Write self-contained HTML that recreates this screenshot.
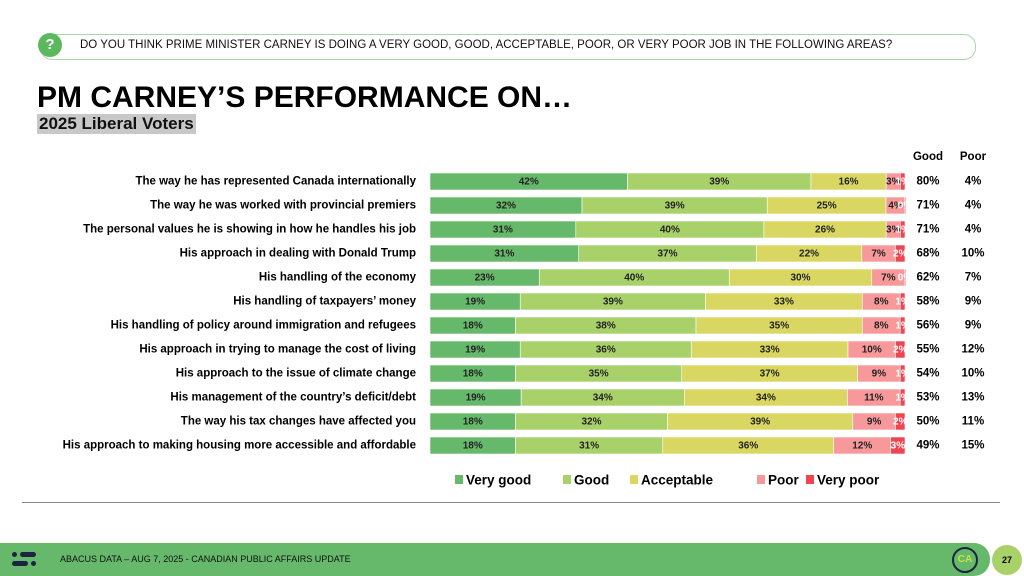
<!DOCTYPE html>
<html><head><meta charset="utf-8"><style>
body{margin:0;width:1024px;height:576px;overflow:hidden;background:#fff;font-family:"Liberation Sans",sans-serif;position:relative}
.abs{position:absolute}
</style></head><body>
<div class="abs" style="left:40px;top:34px;width:934px;height:24px;border:1px solid #a8d8a8;border-radius:12px"></div>
<div class="abs" style="left:38px;top:33px;width:24px;height:24px;border-radius:50%;background:#5cb85c;color:#fff;font-weight:bold;font-size:15px;text-align:center;line-height:24px">?</div>
<div class="abs" style="left:80px;top:39px;font-size:11.5px;color:#111">DO YOU THINK PRIME MINISTER CARNEY IS DOING A VERY GOOD, GOOD, ACCEPTABLE, POOR, OR VERY POOR JOB IN THE FOLLOWING AREAS?</div>
<div class="abs" style="left:37px;top:81px;font-size:30px;font-weight:bold;color:#000">PM CARNEY’S PERFORMANCE ON…</div>
<div class="abs" style="left:37px;top:114px;font-size:17px;font-weight:bold;background:#c8c8c8;padding:0 2px;color:#111">2025 Liberal Voters</div>
<svg class="abs" style="left:0;top:0" width="1024" height="576" id="chart"></svg>
<div class="abs" style="left:22px;top:502px;width:978px;height:1px;background:#888"></div>
<div class="abs" style="left:0;top:543px;width:990px;height:33px;background:#66b96a;border-radius:0 16px 16px 0"></div>
<div class="abs" style="left:12px;top:552px;width:36px;height:16px">
<div class="abs" style="left:0;top:0;width:5px;height:5px;border-radius:50%;background:#1d2440"></div>
<div class="abs" style="left:8px;top:0;width:16px;height:5px;border-radius:3px;background:#1d2440"></div>
<div class="abs" style="left:0;top:9px;width:16px;height:5px;border-radius:3px;background:#1d2440"></div>
<div class="abs" style="left:19px;top:9px;width:5px;height:5px;border-radius:50%;background:#1d2440"></div></div>
<div class="abs" style="left:60px;top:554px;font-size:9px;color:#111">ABACUS DATA – AUG 7, 2025 - CANADIAN PUBLIC AFFAIRS UPDATE</div>
<div class="abs" style="left:952px;top:547px;width:22px;height:22px;border:2px solid #1d2440;border-radius:50%;color:#c8e04a;font-size:10px;font-weight:bold;text-align:center;line-height:22px">CA</div>
<div class="abs" style="left:992px;top:545px;width:30px;height:30px;border-radius:50%;background:#a9d16a;font-size:9px;font-weight:bold;text-align:center;line-height:30px">27</div>
<script>
const categories=["The way he has represented Canada internationally","The way he was worked with provincial premiers","The personal values he is showing in how he handles his job","His approach in dealing with Donald Trump","His handling of the economy","His handling of taxpayers’ money","His handling of policy around immigration and refugees","His approach in trying to manage the cost of living","His approach to the issue of climate change","His management of the country’s deficit/debt","The way his tax changes have affected you","His approach to making housing more accessible and affordable"];
const veryGood=[42,32,31,31,23,19,18,19,18,19,18,18];
const good=[39,39,40,37,40,39,38,36,35,34,32,31];
const acceptable=[16,25,26,22,30,33,35,33,37,34,39,36];
const poor=[3,4,3,7,7,8,8,10,9,11,9,12];
const veryPoor=[1,0,1,2,0,1,1,2,1,1,2,3];
const goodTotal=["80%","71%","71%","68%","62%","58%","56%","55%","54%","53%","50%","49%"];
const poorTotal=["4%","4%","4%","10%","7%","9%","9%","12%","10%","13%","11%","15%"];
const seriesNames=["Very good","Good","Acceptable","Poor","Very poor"];
const colors=["#66b96a","#a9d16a","#d9d762","#f7999b","#ee4550"];
const svg=document.getElementById('chart');const NS="http://www.w3.org/2000/svg";
const x0=430,fullW=475,y0=181.5,step=24,bh=17;
const xScale=(v,tot)=>v/tot*fullW;
const yScale=i=>y0+i*step;
function mk(t,a){const e=document.createElementNS(NS,t);for(const k in a)e.setAttribute(k,a[k]);svg.appendChild(e);return e;}
function txt(x,y,s,a){const e=mk('text',Object.assign({x:x,y:y,'font-size':12,'font-weight':'bold','dominant-baseline':'central'},a));e.textContent=s;return e;}
let h=txt(928,157,"Good",{'text-anchor':'middle','font-size':11.5});


h=txt(973,157,"Poor",{'text-anchor':'middle','font-size':11.5});


const series=[veryGood,good,acceptable,poor,veryPoor];
categories.forEach((c,i)=>{
 const y=yScale(i);
 const l=txt(416,y,c,{'text-anchor':'end','font-size':11.5});
 
 
 const tot=series.reduce((s,a)=>s+a[i],0);
 let x=x0;
 series.forEach((arr,j)=>{
  const w=xScale(arr[i],tot);
  const r=mk('rect',{x:x,y:y-bh/2,width:Math.max(w,arr[i]===0?1:0),height:bh,fill:colors[j],stroke:'#fff','stroke-width':0.6});
  
  
  const t=txt(x+w/2,y+0.5,arr[i]+"%",{'text-anchor':'middle','font-size':10,fill:(j===4||(j===3&&w<12))?'#fff':'#222'});
  
  
  x+=w;
 });
 let g=txt(928,y,goodTotal[i],{'text-anchor':'middle','font-size':11.5});
 
 
 g=txt(973,y,poorTotal[i],{'text-anchor':'middle','font-size':11.5});
 
 
});
const lx=[455,563,630,757,806];
seriesNames.forEach((n,j)=>{
 const r=mk('rect',{x:lx[j],y:475,width:8,height:9,fill:colors[j]});
 
 
 const t=txt(lx[j]+11,480,n,{'font-size':13.5});
 
 
});
</script>
</body></html>
